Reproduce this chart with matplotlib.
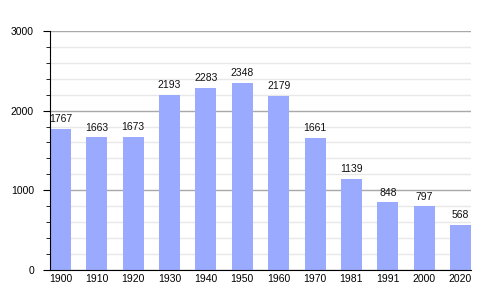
import matplotlib
matplotlib.use("Agg")
import matplotlib.pyplot as plt
from matplotlib.ticker import MultipleLocator

plt.rcParams["font.family"] = ["Liberation Sans", "DejaVu Sans"]

years = ["1900", "1910", "1920", "1930", "1940", "1950", "1960", "1970", "1981", "1991", "2000", "2020"]
population = [1767, 1663, 1673, 2193, 2283, 2348, 2179, 1661, 1139, 848, 797, 568]

fig = plt.figure(figsize=(5, 3), dpi=100)
ax = fig.add_axes([0.1, 0.1, 0.842, 0.797])

w = 0.577
x = list(range(len(years)))
ax.bar(x, population, width=w, color="#99aaff", zorder=3)
for xi, v in zip(x, population):
    ax.annotate(str(v), (xi, v), xytext=(0, 3.5), textcoords="offset points",
                ha="center", va="bottom", fontsize=7.5, color="#111111", zorder=4)

ax.set_xlim(-w / 2, len(years) - 1 + w / 2)
ax.set_ylim(0, 3000)
ax.set_xticks(x)
ax.set_xticklabels(years, fontsize=7.5)
ax.yaxis.set_major_locator(MultipleLocator(1000))
ax.yaxis.set_minor_locator(MultipleLocator(200))
ax.tick_params(axis="y", which="major", length=5, labelsize=7.5, pad=6.5)
ax.tick_params(axis="y", which="minor", length=3)
ax.tick_params(axis="x", length=0, pad=3)
ax.grid(axis="y", which="major", color="#a8a8a8", linewidth=1, zorder=1)
ax.grid(axis="y", which="minor", color="#e8e8e8", linewidth=1, zorder=1)
for s in ["top", "right"]:
    ax.spines[s].set_visible(False)
ax.spines["left"].set_zorder(5)
ax.spines["bottom"].set_zorder(5)

fig.savefig("out.png", dpi=100)
